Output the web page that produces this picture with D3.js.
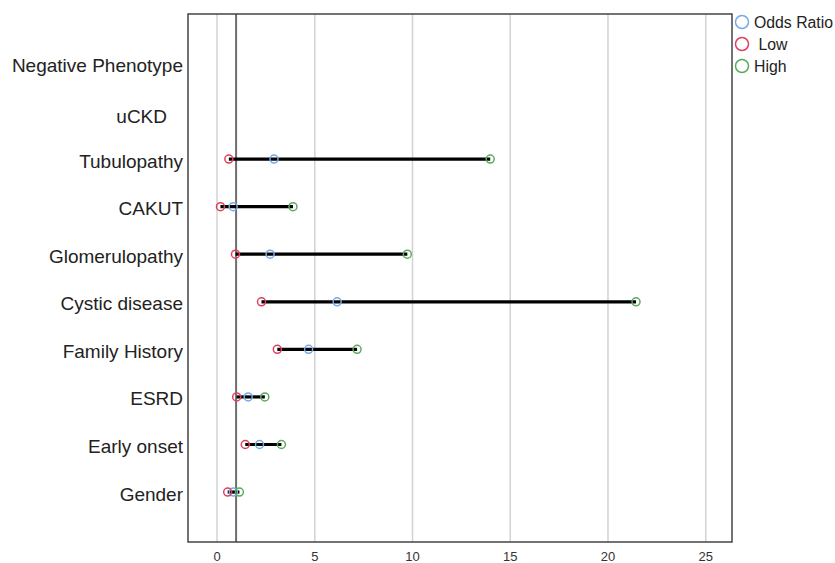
<!DOCTYPE html>
<html>
<head>
<meta charset="utf-8">
<script src="https://cdn.jsdelivr.net/npm/d3@7"></script>
<style>
  body { margin: 0; background: #fff; }
  svg { display: block; font-family: "Liberation Sans", Arial, sans-serif; }
</style>
</head>
<body>
<svg id="chart" width="835" height="563"></svg>
<script>
// categories, top to bottom
var categories = ['Negative Phenotype', 'uCKD', 'Tubulopathy', 'CAKUT', 'Glomerulopathy',
  'Cystic disease', 'Family History', 'ESRD', 'Early onset', 'Gender'];

// values (null = no estimate)
var oddsRatio = [null, null, 2.94, 0.85, 2.74, 6.17, 4.71, 1.62, 2.2, 0.86];
var low       = [null, null, 0.63, 0.20, 0.97, 2.30, 3.11, 1.03, 1.47, 0.57];
var high      = [null, null, 14.0, 3.91, 9.76, 21.46, 7.19, 2.47, 3.32, 1.17];

var xTicks = [0, 5, 10, 15, 20, 25];
var refValue = 1;

var seriesNames = ['Odds Ratio', ' Low', 'High'];
var seriesColors = ['#74aaea', '#e0405e', '#5aac5a'];

var svg = d3.select('#chart'),
    margin = {top: 14, right: 103, bottom: 21, left: 188},
    width = +svg.attr('width') - margin.left - margin.right,
    height = +svg.attr('height') - margin.top - margin.bottom,
    g = svg.append('g').attr('transform', 'translate(' + margin.left + ',' + margin.top + ')');

var x = d3.scaleLinear()
    .domain([-1.46, 26.37])
    .range([0, width]);

var y = d3.scalePoint()
    .domain(categories)
    .range([0, height])
    .padding(1.05);

// grid lines
g.append('g')
    .attr('class', 'grid')
    .call(d3.axisBottom(x).tickValues(xTicks).tickSize(height).tickFormat(''))
    .call(function (s) { s.select('.domain').remove(); })
    .selectAll('line')
    .attr('stroke', '#d2d2d2')
    .attr('stroke-width', 1.5);

// reference line at 1
g.append('line')
    .attr('x1', x(refValue)).attr('x2', x(refValue))
    .attr('y1', 0).attr('y2', height)
    .attr('stroke', '#6e6e6e')
    .attr('stroke-width', 2);

// x axis
var xAxis = g.append('g')
    .attr('transform', 'translate(0,' + height + ')')
    .call(d3.axisBottom(x).tickValues(xTicks).tickSize(0).tickPadding(10));
xAxis.select('.domain').remove();
xAxis.selectAll('text')
    .attr('fill', '#333')
    .style('font-size', '13px');

// y axis
var yAxis = g.append('g')
    .call(d3.axisLeft(y).tickSize(0).tickPadding(5));
yAxis.select('.domain').remove();
yAxis.selectAll('text')
    .attr('fill', '#222')
    .attr('dy', '0.42em')
    .style('font-size', '19px');

// the uCKD label sits a bit low/left and its bottom is cut off in the original
// (clip rect is in the tick's own coordinates)
svg.append('clipPath').attr('id', 'ucut')
  .append('rect')
    .attr('x', -200).attr('y', -25)
    .attr('width', 200).attr('height', 36.5);
yAxis.selectAll('.tick')
    .filter(function (d) { return d === 'uCKD'; })
    .attr('clip-path', 'url(#ucut)')
    .select('text')
    .attr('x', -21)
    .attr('y', 3);

// frame
g.append('rect')
    .attr('width', width)
    .attr('height', height)
    .attr('fill', 'none')
    .attr('stroke', '#444')
    .attr('stroke-width', 1.5);

var rows = categories.map(function (c, i) {
  return {cat: c, or: oddsRatio[i], low: low[i], high: high[i]};
}).filter(function (d) { return d.or != null; });

// low - high bars
g.selectAll('.range')
    .data(rows)
  .enter().append('line')
    .attr('class', 'range')
    .attr('x1', function (d) { return x(d.low); })
    .attr('x2', function (d) { return x(d.high); })
    .attr('y1', function (d) { return y(d.cat); })
    .attr('y2', function (d) { return y(d.cat); })
    .attr('stroke', '#000')
    .attr('stroke-width', 3.2);

// markers
var keys = ['or', 'low', 'high'];
keys.forEach(function (k, i) {
  g.selectAll('.dot-' + k)
      .data(rows)
    .enter().append('circle')
      .attr('class', 'dot-' + k)
      .attr('cx', function (d) { return x(d[k]); })
      .attr('cy', function (d) { return y(d.cat); })
      .attr('r', 4)
      .attr('fill', 'none')
      .attr('stroke', seriesColors[i])
      .attr('stroke-width', 1.5);
});

// legend
var legend = svg.append('g')
    .attr('transform', 'translate(742,22)');
var item = legend.selectAll('g')
    .data(seriesNames)
  .enter().append('g')
    .attr('transform', function (d, i) { return 'translate(0,' + (i * 22) + ')'; });
item.append('circle')
    .attr('r', 6.5)
    .attr('fill', 'none')
    .attr('stroke', function (d, i) { return seriesColors[i]; })
    .attr('stroke-width', 1.5);
item.append('text')
    .attr('x', 12)
    .attr('dy', '0.36em')
    .attr('fill', '#222')
    .style('font-size', '15.8px')
    .style('white-space', 'pre')
    .text(function (d) { return d; });
</script>
</body>
</html>
